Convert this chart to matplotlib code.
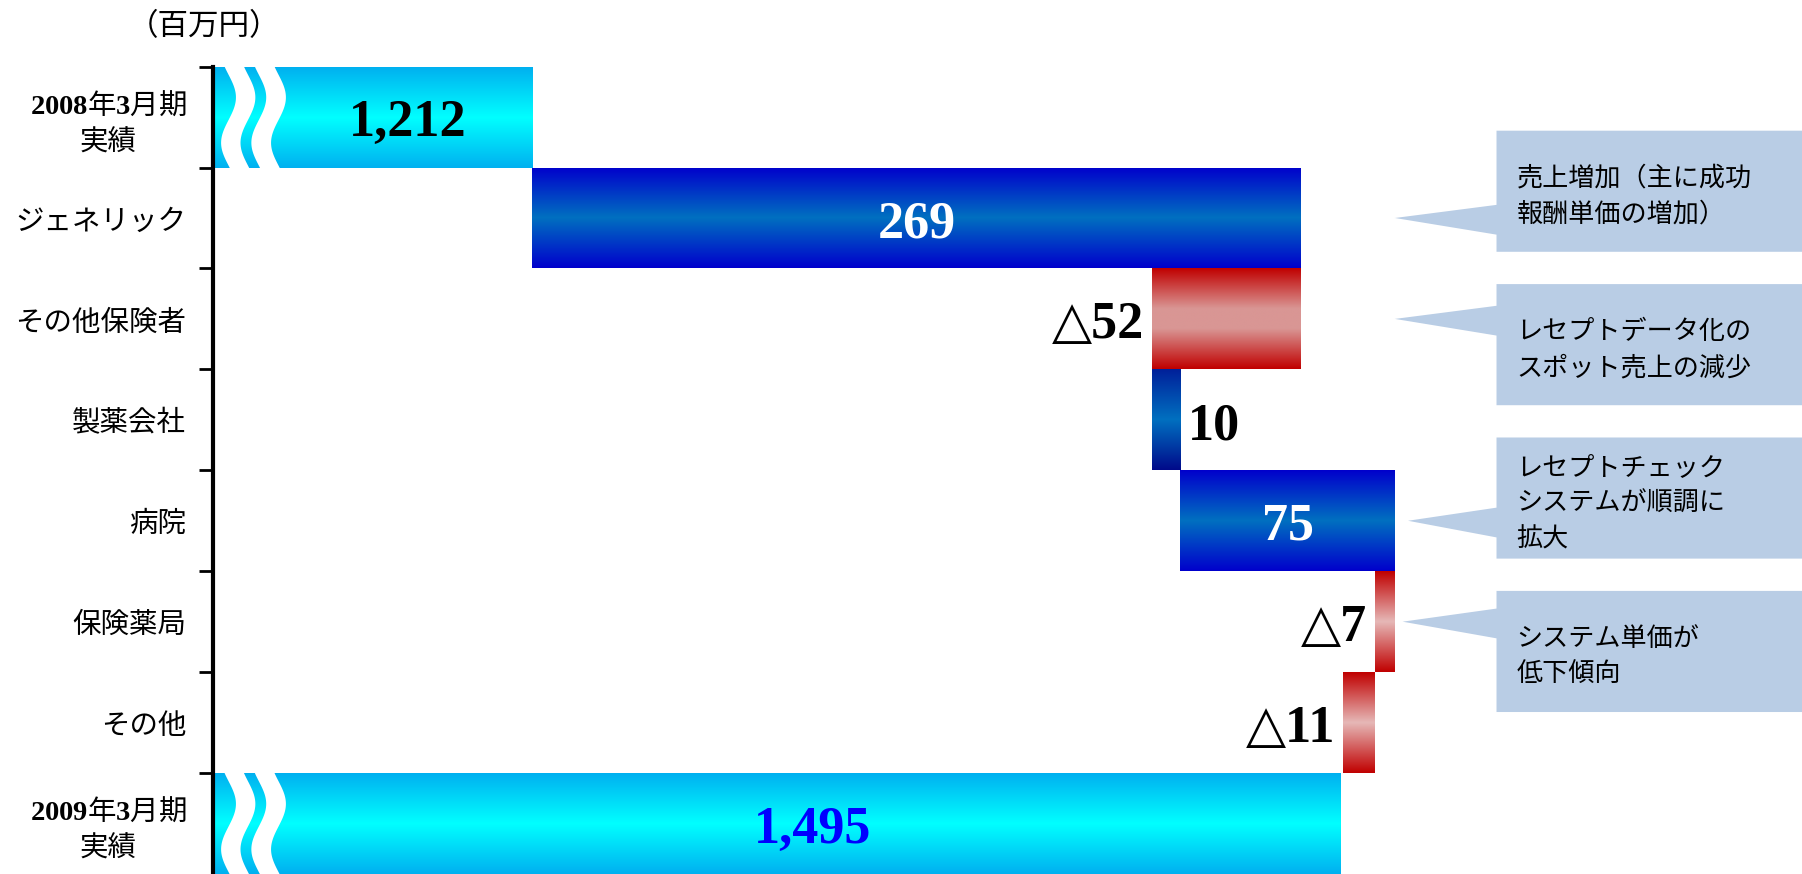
import numpy as np
import matplotlib
matplotlib.use("Agg")
import matplotlib.pyplot as plt
from matplotlib.colors import LinearSegmentedColormap
from matplotlib.patches import Polygon

plt.rcParams["font.family"] = ["Noto Sans CJK JP", "DejaVu Sans"]
plt.rcParams["mathtext.fontset"] = "custom"
plt.rcParams["mathtext.bf"] = "Liberation Serif:bold"
plt.rcParams["mathtext.rm"] = "Liberation Serif"

# --- data -----------------------------------------------------------------
categories = [
    "$\\mathbf{2008}$年$\\mathbf{3}$月期\n実績", "ジェネリック", "その他保険者", "製薬会社",
    "病院", "保険薬局", "その他", "$\\mathbf{2009}$年$\\mathbf{3}$月期\n実績",
]
start_total = 1212
changes = [269, -52, 10, 75, -7, -11]
end_total = 1495

notes = [
    "売上増加（主に成功\n報酬単価の増加）",
    "レセプトデータ化の\nスポット売上の減少",
    "レセプトチェック\nシステムが順調に\n拡大",
    "システム単価が\n低下傾向",
]
note_rows = [1, 2, 4, 5]
unit_label = "（百万円）"

# --- waterfall geometry ----------------------------------------------------
values = [start_total] + changes + [end_total]
lefts, widths = [0], [start_total]
level = start_total
for c in changes:
    lefts.append(level if c >= 0 else level + c)
    widths.append(abs(c))
    level += c
lefts.append(0)
widths.append(end_total)
rows = np.arange(len(categories))

XMIN, XMAX = 1100, 1656.7


def grad_cmap(name, stops):
    return LinearSegmentedColormap.from_list(name, stops)


cyan = grad_cmap("cyan", [(0, "#00B0F0"), (0.5, "#00FFFF"), (1, "#00B0F0")])
blue = grad_cmap("blue", [(0, "#0000CC"), (0.5, "#0070C0"), (1, "#0000CC")])
navy = grad_cmap("navy", [(0, "#00209A"), (0.5, "#0070C0"), (1, "#000A8A")])
red_mid = grad_cmap("redm", [(0, "#C00000"), (0.4, "#D99694"), (0.6, "#D99694"), (1, "#C00000")])
red_light = grad_cmap("redl", [(0, "#C00000"), (0.5, "#E6B8B7"), (1, "#C00000")])
bar_fills = [cyan, blue, red_mid, navy, blue, red_light, red_light, cyan]

fig = plt.figure(figsize=(18.02, 8.74), dpi=100)
ax = fig.add_axes([212.6 / 1802, 0, 1 - 212.6 / 1802, 807.4 / 874])

bars = ax.barh(rows + 0.5, widths, left=lefts, height=1.0,
               color="none", edgecolor="none", zorder=2)

grad = np.linspace(0, 1, 256).reshape(-1, 1)
for patch, cmap in zip(bars, bar_fills):
    x0 = max(patch.get_x(), XMIN)
    x1 = patch.get_x() + patch.get_width()
    y0 = patch.get_y()
    y1 = y0 + patch.get_height()
    im = ax.imshow(grad, extent=(x0, x1, y1, y0), cmap=cmap, aspect="auto",
                   interpolation="bilinear", zorder=2)
    im.set_clip_path(patch)

# wavy break marks on the two total bars
t = np.linspace(-0.02, 1.02, 100)
wave = 2.6 * np.sin(2 * np.pi * t / 0.9 - np.pi / 6)
for r in (rows[0], rows[-1]):
    for a, b in ((5.4, 12.2), (16.0, 22.9)):
        ax.fill_betweenx(r + t, XMIN + a + wave, XMIN + b + wave,
                         color="white", lw=0, zorder=3)
break_end = XMIN + 25

# value labels
value_font = dict(family=["Liberation Serif", "DejaVu Sans"],
                  weight="bold", fontsize=37.5, va="baseline", zorder=5)
for i, v in enumerate(values):
    left, width = lefts[i], widths[i]
    text = ("△" if v < 0 else "") + f"{abs(v):,}"
    y = rows[i] + 0.69
    if i in (0, len(values) - 1):
        color = "black" if i == 0 else "#0000FF"
        ax.text((break_end + left + width) / 2, y, text, ha="center",
                color=color, **value_font)
    elif v < 0:
        ax.text(left - 2.8, y, text, ha="right", color="black", **value_font)
    elif width < 40:
        ax.text(left + width + 2.5, y, text, ha="left", color="black", **value_font)
    else:
        ax.text(left + width / 2, y, text, ha="center", color="white", **value_font)

# callouts
box_left, box_h = 1549.7, 1.2
tip_x = [1514.1, 1514.1, 1518.7, 1516.8]
for i, (note, r) in enumerate(zip(notes, note_rows)):
    top = 0.635 + 1.52 * i
    bottom = top + box_h
    ty = r + 0.5
    pts = [(box_left, top), (XMAX + 5, top), (XMAX + 5, bottom), (box_left, bottom),
           (box_left, ty + 0.165), (tip_x[i], ty), (box_left, ty - 0.13)]
    ax.add_patch(Polygon(pts, closed=True, facecolor="#B9CDE5",
                         edgecolor="none", clip_on=False, zorder=1))
    ax.text(1556.7, top + box_h / 2 + 0.05, note, ha="left", va="center",
            fontsize=18.8, linespacing=1.42, zorder=5)

# axes styling
ax.set_xlim(XMIN, XMAX)
ax.set_ylim(len(categories), 0)
ax.xaxis.set_visible(False)
for side in ("top", "right", "bottom"):
    ax.spines[side].set_visible(False)
ax.spines["left"].set_linewidth(3)
ax.set_yticks(rows + 0.5, labels=categories)
ax.set_yticks(rows, minor=True)
ax.tick_params(axis="y", which="major", length=0, pad=19, labelsize=20.5)
ax.tick_params(axis="y", which="minor", length=10, width=2)
for lab in ax.get_yticklabels():
    lab.set_multialignment("center")
    if "実績" in lab.get_text():
        lab.set_linespacing(1.3)

fig.text(128 / 1802, 1 - 27 / 874, unit_label, ha="left", va="center",
         fontsize=22)

fig.savefig("out.png", dpi=100)
